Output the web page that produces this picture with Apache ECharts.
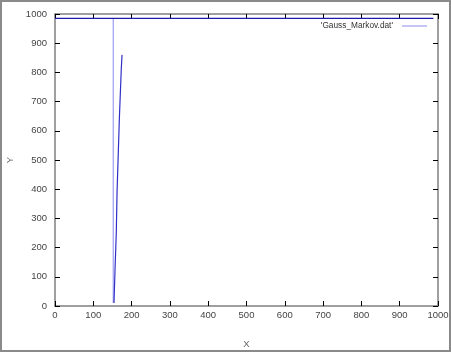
<!DOCTYPE html>
<html><head><meta charset="utf-8">
<script src="https://cdn.jsdelivr.net/npm/echarts@6/dist/echarts.min.js"></script>
<style>html,body{margin:0;padding:0;background:#fff}#c{width:451px;height:352px}</style>
</head><body><div id="c"></div>
<script>
const seriesName = "'Gauss_Markov.dat'";
const xTicks = [0,100,200,300,400,500,600,700,800,900,1000];
const yTicks = [0,100,200,300,400,500,600,700,800,900,1000];
// trajectory pieces
const topLineX = [0, 988];
const topLineY = [985, 985];
const dropX = [152, 152];
const dropY = [985, 10];
const climbX = [154, 157, 160, 162, 168, 173, 175];
const climbY = [10, 135, 250, 390, 640, 810, 860];

const zip = (a, b) => a.map((v, i) => [v, b[i]]);
const lightC = '#8a8af0', darkC = '#1c1ca8';
const labelFont = {fontFamily: 'Liberation Sans', fontSize: 9.5, color: '#444', formatter: v => String(v)};
const tick = {show: true, inside: true, length: 5, lineStyle: {color: '#000', width: 1}};
const line = {show: true, onZero: false, lineStyle: {color: '#808080', width: 1.5}};

const chart = echarts.init(document.getElementById('c'), null, {renderer: 'canvas'});
chart.setOption({
  animation: false,
  backgroundColor: '#fff',
  grid: {left: 55, right: 13, top: 14, bottom: 46, containLabel: false, outerBoundsMode: 'none'},
  legend: {
    data: [seriesName], right: 24, top: 22, align: 'right', padding: 0,
    itemWidth: 25, itemHeight: 8, icon: 'path://M0,3.5 L25,3.5 L25,4.5 L0,4.5 Z',
    textStyle: {fontFamily: 'Liberation Sans', fontSize: 8.3, color: '#333', padding: [3, 4, 0, 0]}
  },
  xAxis: [
    {type: 'value', min: xTicks[0], max: xTicks[xTicks.length-1], interval: 100, position: 'bottom',
     axisLine: line, axisTick: tick, splitLine: {show: false},
     axisLabel: Object.assign({margin: 4}, labelFont),
     name: 'X', nameLocation: 'middle', nameGap: 33,
     nameTextStyle: {fontFamily: 'Liberation Sans', fontSize: 9.5, color: '#666'}},
    {type: 'value', min: xTicks[0], max: xTicks[xTicks.length-1], interval: 100, position: 'top',
     axisLine: line, axisTick: tick, splitLine: {show: false}, axisLabel: {show: false}}
  ],
  yAxis: [
    {type: 'value', min: yTicks[0], max: yTicks[yTicks.length-1], interval: 100, position: 'left',
     axisLine: line, axisTick: tick, splitLine: {show: false},
     axisLabel: Object.assign({margin: 8}, labelFont),
     name: 'Y', nameLocation: 'middle', nameGap: 37, nameRotate: 90,
     nameTextStyle: {fontFamily: 'Liberation Sans', fontSize: 9.5, color: '#666'}},
    {type: 'value', min: yTicks[0], max: yTicks[yTicks.length-1], interval: 100, position: 'right',
     axisLine: line, axisTick: tick, splitLine: {show: false}, axisLabel: {show: false}}
  ],
  series: [
    {name: seriesName, type: 'line', data: zip(dropX, dropY), showSymbol: false,
     lineStyle: {color: lightC, width: 1}, itemStyle: {color: lightC}},
    {name: seriesName, type: 'line', data: zip(topLineX, topLineY), showSymbol: false,
     lineStyle: {color: darkC, width: 1.2}, itemStyle: {color: lightC}},
    {name: seriesName, type: 'line', data: zip(climbX, climbY), showSymbol: false,
     lineStyle: {color: '#3030c8', width: 1.2}, itemStyle: {color: lightC}}
  ],
  graphic: [{type: 'rect', shape: {x: 1, y: 1, width: 449, height: 350},
    style: {fill: 'none', stroke: '#8a8a8a', lineWidth: 2}, silent: true}]
});
</script></body></html>
